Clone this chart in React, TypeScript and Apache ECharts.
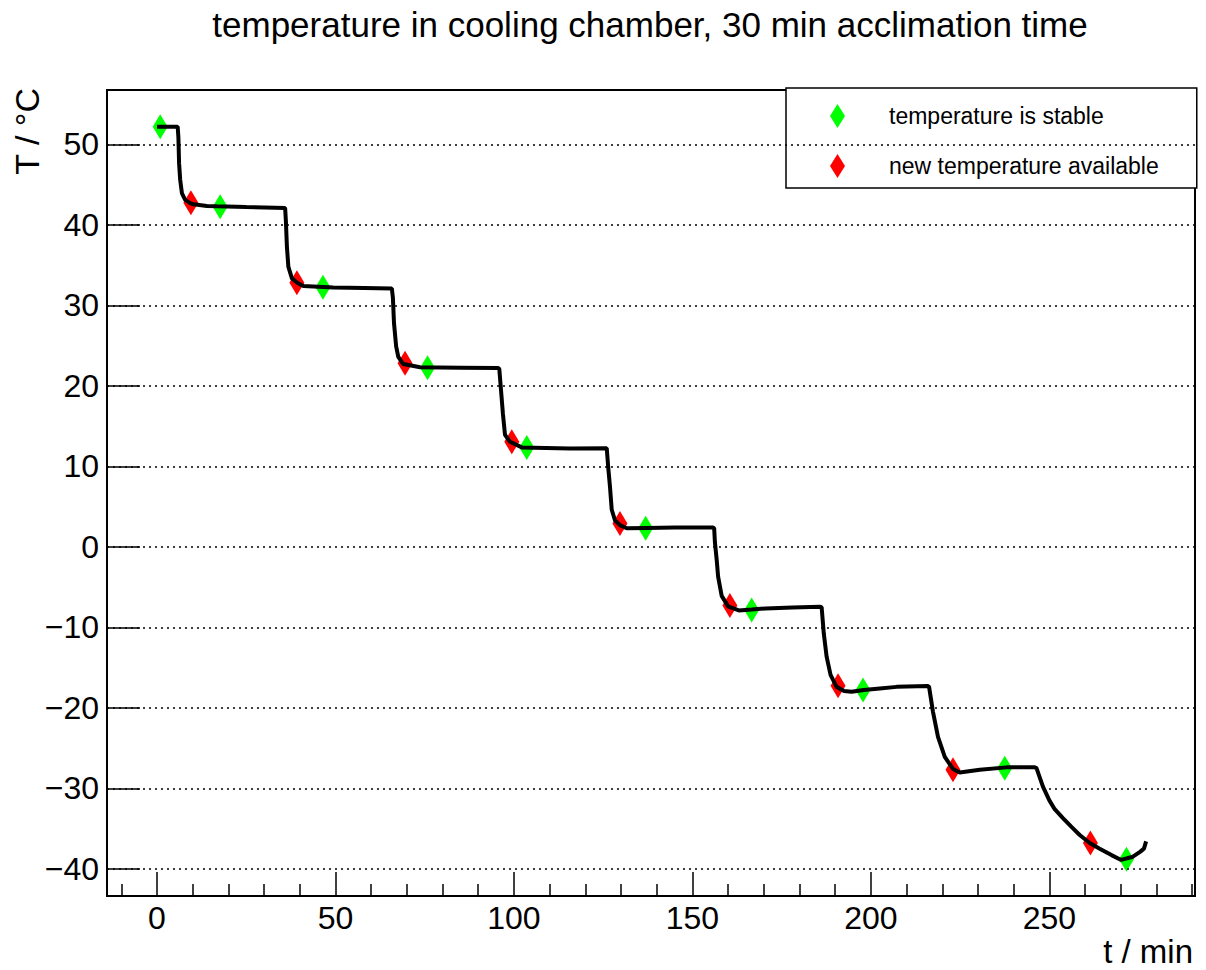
import React, { useEffect, useRef } from "react";
import * as echarts from "echarts";

// temperature readings: [time (min), temperature (°C)]
const temperatureReadings: [number, number][] = [
  [0, 52.2], [5.8, 52.2], [6.0, 50.9], [6.2, 47.6], [6.5, 45.6], [7.0, 43.9], [7.9, 43.1], [9.3, 42.7],
  [10.2, 42.55], [14.0, 42.35], [16.8, 42.3], [25.0, 42.2], [35.9, 42.1],
  [36.1, 40.6], [36.4, 37.3], [36.8, 34.8], [37.8, 33.35], [39.3, 32.8], [41.0, 32.4], [49.4, 32.2],
  [58.0, 32.15], [65.8, 32.1],
  [66.1, 30.9], [66.4, 27.8], [67.0, 24.9], [67.6, 23.6], [69.0, 22.7], [73.7, 22.3], [85.0, 22.25], [95.6, 22.2],
  [95.9, 22.1], [96.3, 19.9], [96.9, 16.6], [97.5, 13.9], [98.9, 13.05], [102.2, 12.35], [115.7, 12.2], [126.0, 12.25],
  [126.4, 9.95], [126.9, 7.5], [127.4, 4.6], [128.3, 3.3], [129.7, 2.7], [131.6, 2.3], [137.2, 2.35], [145.0, 2.4], [155.8, 2.4],
  [156.1, 2.3], [156.3, 0.6], [156.8, -1.6], [157.2, -3.7], [158.2, -6.1], [160.0, -7.4], [163.0, -7.9], [166.6, -7.8],
  [170.5, -7.65], [178.0, -7.55], [185.7, -7.45],
  [186.2, -7.5], [186.8, -10.75], [187.6, -13.65], [188.7, -15.9], [190.4, -17.4], [192.5, -17.9], [194.6, -18.0],
  [198.0, -17.8], [202.5, -17.6], [207.2, -17.4], [216.0, -17.3],
  [216.3, -17.4], [217.4, -20.5], [218.8, -23.6], [220.7, -26.1], [223.0, -27.6], [224.9, -28.05], [230.5, -27.7],
  [238.0, -27.4], [245.9, -27.4],
  [246.4, -27.5], [248.2, -29.8], [250.0, -31.5], [251.5, -32.6], [253.8, -33.7], [256.2, -34.8], [258.5, -35.8],
  [261.3, -36.8], [264.1, -37.5], [267.4, -38.3], [270.1, -38.9], [273.4, -38.5], [275.4, -37.9], [276.5, -37.5], [277.1, -36.6],
];

const stablePoints: [number, number][] = [
  [0.9, 52.2], [17.7, 42.25], [46.5, 32.25], [75.8, 22.25], [103.6, 12.35],
  [136.9, 2.3], [166.6, -7.85], [197.8, -17.8], [237.5, -27.5], [271.6, -38.8],
];

const newTempPoints: [number, number][] = [
  [9.5, 42.75], [39.2, 32.8], [69.5, 22.8], [99.4, 13.05], [129.7, 2.9],
  [160.5, -7.3], [190.8, -17.25], [223.0, -27.7], [261.5, -36.8],
];

const xMajorTicks = [0, 50, 100, 150, 200, 250];
const xMinorTicks = [-10, 10, 20, 30, 40, 60, 70, 80, 90, 110, 120, 130, 140, 160, 170, 180, 190, 210, 220, 230, 240, 260, 270, 280, 290];
const yTicks = [-40, -30, -20, -10, 0, 10, 20, 30, 40, 50];

const titleText = "temperature in cooling chamber, 30 min acclimation time";
const xTitle = "t / min";
const yTitle = "T / °C";
const stableName = "temperature is stable";
const newTempName = "new temperature available";

const FONT = "'Liberation Sans', Arial, Helvetica, sans-serif";

export default function App() {
  const ref = useRef<HTMLDivElement>(null);
  useEffect(() => {
    if (!ref.current) return;
    const chart = echarts.init(ref.current, null, { renderer: "svg" });
    const xMin = -14.0;
    const xMax = 290.8;
    const yMin = -43.38;
    const yMax = 56.75;
    chart.setOption({
      animation: false,
      backgroundColor: "#ffffff",
      textStyle: { fontFamily: FONT },
      grid: {
        left: 107,
        top: 90,
        width: 1088,
        height: 806,
        show: true,
        borderColor: "#000",
        borderWidth: 2,
        containLabel: false,
      },
      legend: {
        left: 786,
        top: 88,
        orient: "vertical",
        padding: [16, 38, 10, 44],
        itemGap: 26,
        itemWidth: 15,
        itemHeight: 24,
        backgroundColor: "#fff",
        borderColor: "#000",
        borderWidth: 1.5,
        textStyle: { fontFamily: FONT, fontSize: 23, color: "#000", padding: [0, 0, 0, 39] },
        data: [
          { name: stableName, icon: "diamond" },
          { name: newTempName, icon: "diamond" },
        ],
      },
      xAxis: [
        {
          type: "value",
          min: xMin,
          max: xMax,
          position: "bottom",
          axisLine: { show: true, onZero: false, lineStyle: { color: "#000", width: 2 } },
          axisTick: { show: true, inside: true, length: 24, customValues: xMajorTicks, lineStyle: { color: "#000", width: 1.5 } },
          axisLabel: { show: true, customValues: xMajorTicks, fontSize: 32, color: "#000", fontFamily: FONT, margin: 6 },
          splitLine: { show: false },
        },
        {
          type: "value",
          min: xMin,
          max: xMax,
          position: "bottom",
          axisLine: { show: false, onZero: false },
          axisTick: { show: true, inside: true, length: 12, customValues: xMinorTicks, lineStyle: { color: "#000", width: 1.5 } },
          axisLabel: { show: false },
          splitLine: { show: false },
        },
      ],
      yAxis: {
        type: "value",
        min: yMin,
        max: yMax,
        axisLine: { show: true, onZero: false, lineStyle: { color: "#000", width: 2 } },
        axisTick: { show: true, inside: true, length: 33, customValues: yTicks, lineStyle: { color: "#000", width: 1.5 } },
        axisLabel: { show: true, customValues: yTicks, fontSize: 32, color: "#000", fontFamily: FONT, margin: 8, formatter: (v: number) => (v < 0 ? "\u2212" + Math.abs(v) : String(v)) },
        splitLine: { show: false },
      },
      series: [
        {
          type: "scatter",
          name: "grid",
          data: [],
          silent: true,
          z: 1,
          markLine: {
            silent: true,
            symbol: ["none", "none"],
            label: { show: false },
            lineStyle: { color: "#000", type: [2, 4], width: 1.5 },
            emphasis: { disabled: true },
            data: yTicks.map((v) => ({ yAxis: v })),
          },
        },
        {
          type: "scatter",
          name: stableName,
          data: stablePoints,
          symbol: "diamond",
          symbolSize: [15, 25],
          itemStyle: { color: "#00ff00", opacity: 1 },
          z: 2,
        },
        {
          type: "scatter",
          name: newTempName,
          data: newTempPoints,
          symbol: "diamond",
          symbolSize: [15, 25],
          itemStyle: { color: "#ff0000", opacity: 1 },
          z: 2,
        },
        {
          type: "line",
          name: "temperature",
          data: temperatureReadings,
          showSymbol: false,
          symbol: "none",
          lineStyle: { color: "#000", width: 4 },
          z: 3,
        },
      ],
      graphic: [
        {
          type: "text",
          x: 650,
          y: 24,
          style: { text: titleText, font: `35px ${FONT}`, fill: "#000", textAlign: "center", textVerticalAlign: "middle" },
        },
        {
          type: "text",
          x: 1193,
          y: 951,
          style: { text: xTitle, font: `33px ${FONT}`, fill: "#000", textAlign: "right", textVerticalAlign: "middle" },
        },
        {
          type: "text",
          x: 27,
          y: 88,
          rotation: Math.PI / 2,
          style: { text: yTitle, font: `34px ${FONT}`, fill: "#000", textAlign: "right", textVerticalAlign: "middle" },
        },
      ],
    });
    return () => chart.dispose();
  }, []);
  return <div ref={ref} style={{ position: "fixed", left: 0, top: 0, width: 1206, height: 970 }} />;
}
